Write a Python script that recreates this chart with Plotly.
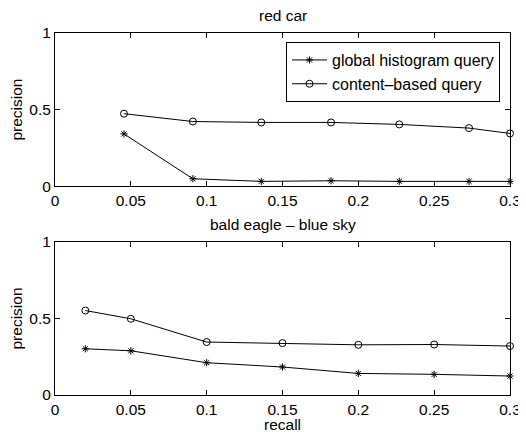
import plotly.graph_objects as go
from plotly.subplots import make_subplots

# Data
car_recall = [0.0455, 0.0909, 0.136, 0.182, 0.227, 0.273, 0.3]
car_global = [0.341, 0.048, 0.031, 0.035, 0.031, 0.031, 0.031]
car_content = [0.473, 0.422, 0.416, 0.416, 0.403, 0.379, 0.344]

eagle_recall = [0.02, 0.05, 0.1, 0.15, 0.2, 0.25, 0.3]
eagle_global = [0.302, 0.289, 0.211, 0.183, 0.141, 0.135, 0.124]
eagle_content = [0.552, 0.498, 0.346, 0.339, 0.328, 0.330, 0.320]

x_ticks = [0, 0.05, 0.1, 0.15, 0.2, 0.25, 0.3]
x_ticktext = ["0", "0.05", "0.1", "0.15", "0.2", "0.25", "0.3"]
y_ticks = [0, 0.5, 1]
y_ticktext = ["0", "0.5", "1"]

titles = ["red car", "bald eagle \u2013 blue sky"]
series_names = ["global histogram query", "content\u2013based query"]
x_title = "recall"
y_title = "precision"

FONT = "Liberation Sans, Arial, Helvetica, sans-serif"
FS = 15.5

fig = make_subplots(rows=2, cols=1)

def add(row, x, g, c, show):
    fig.add_trace(go.Scatter(x=x, y=g, mode="lines+markers", name=series_names[0],
                             line=dict(color="black", width=1),
                             marker=dict(symbol="asterisk-open", size=6, color="black",
                                         line=dict(color="black", width=1)),
                             showlegend=show, cliponaxis=False), row=row, col=1)
    fig.add_trace(go.Scatter(x=x, y=c, mode="lines+markers", name=series_names[1],
                             line=dict(color="black", width=1),
                             marker=dict(symbol="circle-open", size=7, color="black",
                                         line=dict(color="black", width=1)),
                             showlegend=show, cliponaxis=False), row=row, col=1)

add(1, car_recall, car_global, car_content, True)
add(2, eagle_recall, eagle_global, eagle_content, False)

axis_common = dict(showline=True, linecolor="black", linewidth=1, mirror="allticks",
                   ticks="inside", ticklen=5, tickcolor="black", showgrid=False,
                   zeroline=False, automargin=False, ticklabeloverflow="allow",
                   tickfont=dict(size=FS, color="black", family=FONT))

for r in (1, 2):
    fig.update_xaxes(range=[0, 0.3], tickvals=x_ticks, ticktext=x_ticktext, row=r, col=1, **axis_common)
    fig.update_yaxes(range=[0, 1], tickvals=y_ticks, ticktext=y_ticktext, row=r, col=1,
                     title=dict(text=y_title, font=dict(size=FS, color="black", family=FONT), standoff=2),
                     **axis_common)

# The page body has an 8px margin; the figure is offset by it and reaches the window's edges.
fig.update_layout(
    width=518, height=424,
    margin=dict(l=47, r=16, t=25, b=37),
    paper_bgcolor="white", plot_bgcolor="white",
    font=dict(family=FONT, color="black", size=FS),
    yaxis=dict(domain=[0.577, 1.0]),
    yaxis2=dict(domain=[0.0, 0.4227]),
    legend=dict(x=0.978, y=0.975, xanchor="right", yanchor="top",
                bordercolor="black", borderwidth=1, bgcolor="white",
                font=dict(size=16, color="black", family=FONT),
                tracegroupgap=0, itemwidth=35),
    annotations=[
        dict(text=titles[0], x=0.5, y=1.0, xref="paper", yref="paper", xanchor="center",
             yanchor="bottom", yshift=7, showarrow=False, font=dict(size=FS, color="black", family=FONT)),
        dict(text=titles[1], x=0.5, y=0.4227, xref="paper", yref="paper", xanchor="center",
             yanchor="bottom", yshift=7, showarrow=False, font=dict(size=FS, color="black", family=FONT)),
        dict(text=x_title, x=0.5, y=0.0, xref="paper", yref="paper", xanchor="center",
             yanchor="middle", yshift=-29, showarrow=False, font=dict(size=FS, color="black", family=FONT)),
    ],
)

fig.write_html("out.html")
